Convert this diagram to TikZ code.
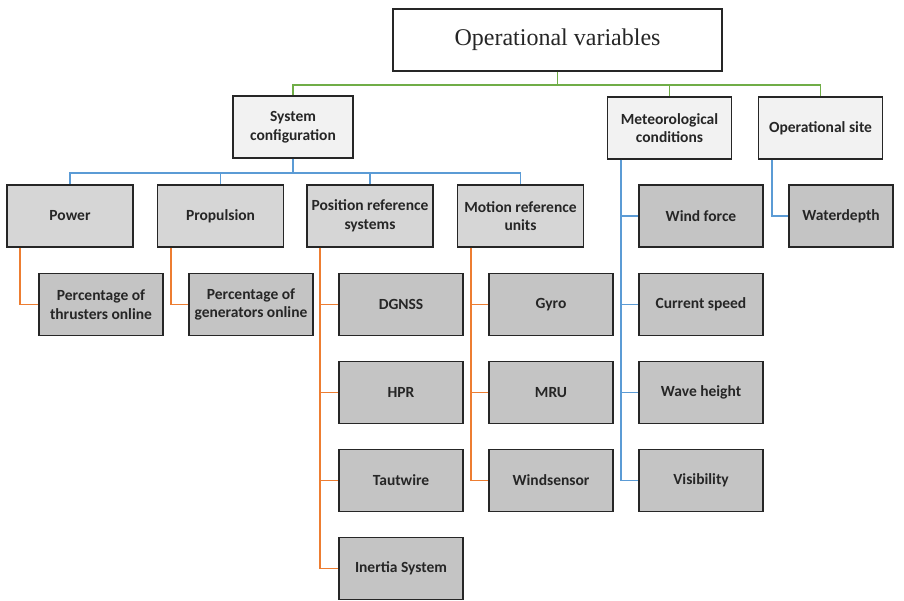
\documentclass[tikz,border=0pt]{standalone}
\usepackage{fontspec}
\setmainfont{Carlito}
\newfontfamily\titlefont{Liberation Serif}
\usepackage{tikz}
\usetikzlibrary{positioning}
\usepackage{xcolor}
\definecolor{busgreen}{HTML}{70AD47}
\definecolor{busblue}{HTML}{5B9BD5}
\definecolor{busorange}{HTML}{ED7D31}
\definecolor{fillone}{HTML}{F2F2F2}
\definecolor{filltwo}{HTML}{D6D6D6}
\definecolor{fillthree}{HTML}{C4C4C4}

\begin{document}
\begin{tikzpicture}[x=1pt, y=-1pt,
  every node/.style={font=\bfseries\fontsize{15.5}{18.5}\selectfont, align=center, text=black!85},
  box/.style={draw=black!85, line width=1.6pt, minimum height=62pt, inner sep=2pt},
  lvlone/.style={box, fill=fillone, minimum width=124pt},
  lvltwo/.style={box, fill=filltwo, minimum width=126pt},
  lvlthree/.style={box, fill=fillthree, minimum width=124pt},
  gline/.style={busgreen, line width=1.8pt},
  bline/.style={busblue, line width=1.8pt},
  oline/.style={busorange, line width=1.8pt}]
\useasboundingbox (0,0) rectangle (904,601);

% root
\node[box, fill=white, minimum width=329pt, font=\titlefont\fontsize{24}{28}\selectfont]
  (top) at (557.5,40) {Operational variables};

% first level
\node[lvlone, minimum width=120pt] (syscfg) at (293,127) {System\\configuration};
\node[lvlone] (meteo) at (669.5,128) {Meteorological\\conditions};
\node[lvlone] (opsite) at (820.5,128) {Operational site};

\draw[gline] (top.south) -- ++(0,13) -| (syscfg.north);
\draw[gline] (top.south) -- ++(0,13) -| (meteo.north);
\draw[gline] (top.south) -- ++(0,13) -| (opsite.north);

% system configuration
\node[lvltwo] (power) at (70,216) {Power};
\node[lvltwo] (propul) at (220.5,216) {Propulsion};
\node[lvltwo] (posref) at (370,216) {Position reference\\systems};
\node[lvltwo] (motref) at (520.5,216) {Motion reference\\units};
\foreach \n in {power,propul,posref,motref}
  \draw[bline] (syscfg.south) -- ++(0,14) -| (\n.north);

\node[lvlthree] (pctthr) at (101,304.5) {Percentage of\\thrusters online};
\node[lvlthree] (pctgen) at (251,304.5) {Percentage of\\generators online};
\draw[oline] ([xshift=14pt]power.south west) |- (pctthr.west);
\draw[oline] ([xshift=14pt]propul.south west) |- (pctgen.west);

\node[lvlthree] (dgnss) at (401,304.5) {DGNSS};
\node[lvlthree] (hpr) at (401,392.5) {HPR};
\node[lvlthree] (taut) at (401,480.5) {Tautwire};
\node[lvlthree] (inertia) at (401,568.5) {Inertia System};
\foreach \n in {dgnss,hpr,taut,inertia}
  \draw[oline] ([xshift=14pt]posref.south west) |- (\n.west);

\node[lvlthree] (gyro) at (551,304.5) {Gyro};
\node[lvlthree] (mru) at (551,392.5) {MRU};
\node[lvlthree] (wsens) at (551,480.5) {Windsensor};
\foreach \n in {gyro,mru,wsens}
  \draw[oline] ([xshift=14pt]motref.south west) |- (\n.west);

% meteorological conditions
\node[lvlthree] (wind) at (701,216) {Wind force};
\node[lvlthree] (current) at (701,304.5) {Current speed};
\node[lvlthree] (wave) at (701,392.5) {Wave height};
\node[lvlthree] (visib) at (701,480.5) {Visibility};
\foreach \n in {wind,current,wave,visib}
  \draw[bline] ([xshift=14pt]meteo.south west) |- (\n.west);

% operational site
\node[lvlthree, minimum width=104pt] (wdepth) at (841,216) {Waterdepth};
\draw[bline] ([xshift=14pt]opsite.south west) |- (wdepth.west);
\end{tikzpicture}
\end{document}
